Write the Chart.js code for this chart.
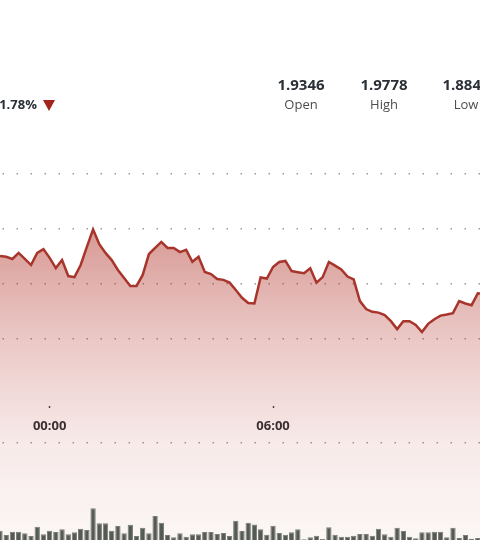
<!DOCTYPE html>
<html lang="en">
<head>
    <meta charset="UTF-8">
    <title>Intraday price</title>
    <script src="https://cdn.jsdelivr.net/npm/chart.js@4.4.1/dist/chart.umd.min.js"></script>
    <style>
        html, body {
            margin: 0;
            padding: 0;
            width: 480px;
            height: 540px;
            overflow: hidden;
            background: #fff;
            font-family: "Open Sans", sans-serif;
        }
        .wrap {
            position: absolute;
            left: 0;
            top: 0;
            width: 484px;
            height: 540px;
        }
        .chg {
            position: absolute;
            left: -5px;
            top: 95px;
            font-size: 13px;
            font-weight: 700;
            color: #2b2f36;
            line-height: 18px;
        }
        .tri {
            position: absolute;
            left: 43px;
            top: 100px;
            width: 0;
            height: 0;
            border-left: 6.5px solid transparent;
            border-right: 6.5px solid transparent;
            border-top: 11px solid #a3241b;
        }
        .stat {
            position: absolute;
            top: 74px;
            width: 90px;
            text-align: center;
        }
        .stat b {
            display: block;
            font-size: 15px;
            line-height: 20px;
            color: #2b2f36;
        }
        .stat span {
            display: block;
            font-size: 13px;
            line-height: 20px;
            color: #4d4d4d;
        }
    </style>
</head>

<body>
    <div class="wrap"><canvas id="grafico"></canvas></div>

    <div class="chg">-1.78%</div>
    <div class="tri"></div>
    <div class="stat" style="left:256px"><b>1.9346</b><span>Open</span></div>
    <div class="stat" style="left:339px"><b>1.9778</b><span>High</span></div>
    <div class="stat" style="left:421px"><b>1.8843</b><span>Low</span></div>

    <script>
        // one point every 10 minutes
        const horas = [
            '22:40', '22:50', '23:00', '23:10', '23:20', '23:30', '23:40', '23:50',
            '00:00', '00:10', '00:20', '00:30', '00:40', '00:50',
            '01:00', '01:10', '01:20', '01:30', '01:40', '01:50',
            '02:00', '02:10', '02:20', '02:30', '02:40', '02:50',
            '03:00', '03:10', '03:20', '03:30', '03:40', '03:50',
            '04:00', '04:10', '04:20', '04:30', '04:40', '04:50',
            '05:00', '05:10', '05:20', '05:30', '05:40', '05:50',
            '06:00', '06:10', '06:20', '06:30', '06:40', '06:50',
            '07:00', '07:10', '07:20', '07:30', '07:40', '07:50',
            '08:00', '08:10', '08:20', '08:30', '08:40', '08:50',
            '09:00', '09:10', '09:20', '09:30', '09:40', '09:50',
            '10:00', '10:10', '10:20', '10:30', '10:40', '10:50',
            '11:00', '11:10', '11:20', '11:30', '11:40'
        ];

        const precos = [
            1.9702, 1.9699, 1.9691, 1.9713, 1.9691, 1.9669, 1.9713, 1.9727, 1.9695, 1.9658,
            1.9687, 1.9629, 1.9625, 1.9669, 1.9735, 1.9798, 1.9745, 1.9713, 1.9687, 1.9651,
            1.9622, 1.9593, 1.9593, 1.9633, 1.9709, 1.9731, 1.9753, 1.9731, 1.9731, 1.9716,
            1.9724, 1.9681, 1.9699, 1.9644, 1.9636, 1.9618, 1.9615, 1.9605, 1.9578, 1.9550,
            1.9531, 1.9529, 1.9624, 1.9620, 1.9662, 1.9680, 1.9684, 1.9647, 1.9643, 1.9639,
            1.9657, 1.9605, 1.9625, 1.9680, 1.9667, 1.9653, 1.9627, 1.9617, 1.9538, 1.9509,
            1.9499, 1.9496, 1.9487, 1.9465, 1.9436, 1.9465, 1.9465, 1.9451, 1.9425, 1.9455,
            1.9472, 1.9485, 1.9489, 1.9494, 1.9538, 1.9529, 1.9523, 1.9566, 1.9564
        ];

        const volumes = [
            280, 150, 250, 250, 200, 120, 400, 170, 280, 240,
            320, 170, 230, 340, 300, 950, 500, 500, 280, 420,
            200, 460, 120, 370, 200, 720, 520, 150, 80, 200,
            100, 170, 170, 240, 240, 180, 210, 120, 580, 270,
            520, 465, 320, 160, 430, 210, 160, 230, 320, 20,
            80, 130, 30, 380, 160, 100, 100, 130, 180, 180,
            130, 340, 170, 100, 370, 270, 100, 50, 230, 230,
            250, 250, 80, 370, 60, 150, 40, 60, 60
        ];

        const horasVisiveis = ['00:00', '06:00'];
        const linhasPreco = [1.94, 1.96, 1.98, 2.00];

        const pontilhado = { display: false, dash: [1.5, 12.5], dashOffset: 11.5 };

        function preenchimento(context) {
            const chart = context.chart;
            const area = chart.chartArea;
            if (!area) return 'rgba(175,45,35,0.2)';
            const g = chart.ctx.createLinearGradient(0, area.top + 220, 0, area.bottom);
            g.addColorStop(0, 'rgba(175,45,35,0.50)');
            g.addColorStop(0.34, 'rgba(175,45,35,0.28)');
            g.addColorStop(0.69, 'rgba(175,45,35,0.10)');
            g.addColorStop(1, 'rgba(175,45,35,0.04)');
            return g;
        }

        let grafico = new Chart(document.getElementById('grafico'), {
            type: 'line',
            data: {
                labels: horas,
                datasets: [{
                    type: 'bar',
                    data: volumes,
                    yAxisID: 'vol',
                    backgroundColor: '#555a55',
                    borderColor: '#7a7e7a',
                    borderWidth: 1,
                    barPercentage: 0.86,
                    categoryPercentage: 1,
                    order: 0
                }, {
                    type: 'line',
                    data: precos,
                    yAxisID: 'y',
                    borderColor: '#a8352b',
                    borderWidth: 2.5,
                    pointRadius: 0,
                    tension: 0,
                    fill: 'start',
                    backgroundColor: preenchimento,
                    order: 1
                }]
            },
            options: {
                responsive: true,
                maintainAspectRatio: false,
                animation: false,
                layout: { padding: 0 },
                plugins: {
                    legend: { display: false },
                    tooltip: { enabled: false }
                },
                scales: {
                    x: {
                        type: 'category',
                        offset: false,
                        position: { y: 1.9156 },
                        afterBuildTicks: (s) => {
                            s.ticks = s.ticks.filter(t => horasVisiveis.includes(horas[t.value]));
                        },
                        grid: {
                            drawOnChartArea: false,
                            drawTicks: true,
                            tickLength: 2,
                            tickWidth: 1.5,
                            tickColor: '#444',
                            offset: false
                        },
                        border: { display: false },
                        ticks: {
                            autoSkip: false,
                            maxRotation: 0,
                            padding: 10,
                            color: '#2b2f36',
                            font: { family: '"Open Sans"', size: 13, weight: 'bold' }
                        }
                    },
                    y: {
                        position: 'right',
                        min: 1.866909,
                        max: 2.063273,
                        afterBuildTicks: (s) => {
                            s.ticks = linhasPreco.map(v => ({ value: v }));
                        },
                        afterFit: (s) => { s.width = 0; },
                        ticks: { display: false },
                        grid: { color: '#9a9a9a', lineWidth: 1.5, drawTicks: false },
                        border: pontilhado
                    },
                    vol: {
                        position: 'right',
                        min: 0,
                        max: 16200,
                        afterBuildTicks: (s) => {
                            s.ticks = [{ value: 2910 }];
                        },
                        afterFit: (s) => { s.width = 0; },
                        ticks: { display: false },
                        grid: { color: '#9a9a9a', lineWidth: 1.5, drawTicks: false },
                        border: pontilhado
                    }
                }
            }
        });
    </script>
</body>

</html>
